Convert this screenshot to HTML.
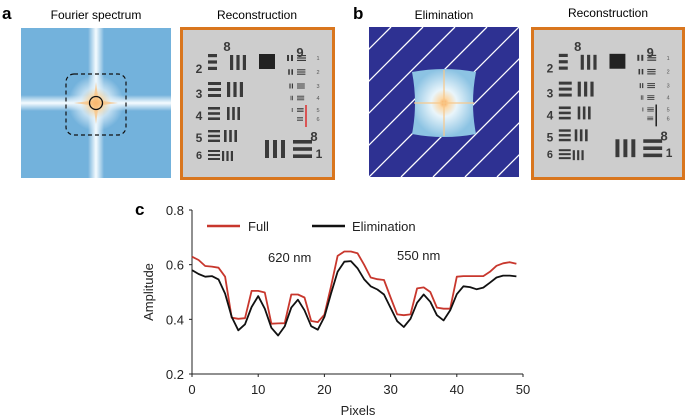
<!DOCTYPE html>
<html><head><meta charset="utf-8"><style>
body{margin:0;background:#fff;width:688px;height:419px;overflow:hidden;font-family:"Liberation Sans",Arial,sans-serif}
svg{position:absolute;left:0;top:0}
</style></head><body>
<svg width="688" height="419" viewBox="0 0 688 419" font-family="Liberation Sans, Arial, sans-serif">
<defs>
<linearGradient id="vband" x1="0" x2="1" y1="0" y2="0">
<stop offset="0" stop-color="#fff" stop-opacity="0"/><stop offset="0.5" stop-color="#f4fbff" stop-opacity="1"/><stop offset="1" stop-color="#fff" stop-opacity="0"/></linearGradient>
<linearGradient id="hband" x1="0" x2="0" y1="0" y2="1">
<stop offset="0" stop-color="#fff" stop-opacity="0"/><stop offset="0.5" stop-color="#f4fbff" stop-opacity="1"/><stop offset="1" stop-color="#fff" stop-opacity="0"/></linearGradient>
<radialGradient id="glow"><stop offset="0" stop-color="#f7a048"/><stop offset="0.2" stop-color="#fbd49a"/><stop offset="0.55" stop-color="#e6f3fb" stop-opacity="0.7"/><stop offset="1" stop-color="#e6f3fb" stop-opacity="0"/></radialGradient>
<radialGradient id="pillow"><stop offset="0" stop-color="#f8a858"/><stop offset="0.15" stop-color="#fcd9a8"/><stop offset="0.4" stop-color="#e9f5fb"/><stop offset="1" stop-color="#8cc3e3"/></radialGradient>
<clipPath id="elimclip"><rect x="369" y="27" width="150" height="150"/></clipPath>
</defs>

<text x="2" y="19" font-size="17" font-weight="bold">a</text>
<text x="96" y="19" font-size="12" text-anchor="middle">Fourier spectrum</text>
<g>
<rect x="21" y="28" width="150" height="150" fill="#73b2dc"/>
<rect x="88" y="28" width="16" height="150" fill="url(#vband)"/>
<rect x="21" y="95" width="150" height="16" fill="url(#hband)"/>
<circle cx="96" cy="103" r="28" fill="url(#glow)"/>
<path d="M96 82 L98.5 100.5 L118 103 L98.5 105.5 L96 124 L93.5 105.5 L74 103 L93.5 100.5Z" fill="#f9c07e" opacity="0.7"/>
<rect x="66" y="74" width="60" height="61" rx="8" fill="none" stroke="#111" stroke-dasharray="4,3" stroke-width="1.2"/>
<circle cx="96" cy="103" r="6.5" fill="none" stroke="#111" stroke-width="1.3"/>
</g>
<text x="257" y="19" font-size="12" text-anchor="middle">Reconstruction</text>
<g id="reconA"></g>

<text x="353" y="19" font-size="17" font-weight="bold">b</text>
<text x="444" y="19" font-size="12" text-anchor="middle">Elimination</text>
<g>
<rect x="369" y="27" width="150" height="150" fill="#2e3192"/>
<g clip-path="url(#elimclip)" stroke="#fff" stroke-width="1.3" id="hatch"></g>
<path d="M412 72 Q444 66 476 72 Q470 103 476 134 Q444 140 412 134 Q418 103 412 72Z" fill="url(#pillow)"/>
<line x1="444" y1="70" x2="444" y2="136" stroke="#f8c88a" stroke-width="1.5" opacity="0.8"/>
<line x1="414" y1="103" x2="474" y2="103" stroke="#f8c88a" stroke-width="1.5" opacity="0.8"/>
</g>
<text x="608" y="17" font-size="12" text-anchor="middle">Reconstruction</text>
<g id="reconB"></g>

<text x="135" y="215" font-size="17" font-weight="bold">c</text>
<g id="chart"></g>
</svg>
<script>
const NS='http://www.w3.org/2000/svg';
function mk(tag,attrs,parent,txt){const e=document.createElementNS(NS,tag);for(const k in attrs)e.setAttribute(k,attrs[k]);if(txt!==undefined)e.textContent=txt;parent.appendChild(e);return e;}

const hatch=document.getElementById('hatch');
for(let i=-6;i<7;i++){const x0=369+i*32;const l=mk('line',{x1:x0,y1:177,x2:x0+150,y2:27},hatch);

}

function target(g,x,y,w,h,markColor){
  mk('rect',{x:x+1.5,y:y+1.5,width:w-3,height:h-3,fill:'#cdcdcd',stroke:'#d9761e','stroke-width':3},g);
  const s=w/155;
  const T=(tx,ty,t,fs,fill)=>mk('text',{x:x+tx*s,y:y+ty*s,'font-size':fs*s,'font-weight':'bold',fill:fill||'#3a3a3a','text-anchor':'middle'},g,t);
  // horizontal bar group: x range, y range, count
  const hb=(x0,x1,y0,y1,n)=>{const step=(y1-y0)/(2*n-1);for(let i=0;i<n;i++)mk('rect',{x:x+x0*s,y:y+(y0+2*i*step)*s,width:(x1-x0)*s,height:step*s,fill:'#3a3a3a'},g);};
  const vb=(x0,x1,y0,y1,n)=>{const step=(x1-x0)/(2*n-1);for(let i=0;i<n;i++)mk('rect',{x:x+(x0+2*i*step)*s,y:y+y0*s,width:step*s,height:(y1-y0)*s,fill:'#3a3a3a'},g);};
  T(47,24,'8',13);T(120,30,'9',13);
  T(19,46,'2',12);hb(28,37,27,43,3);vb(50,66,28,43,3);
  T(19,71,'3',12);hb(28,41,55,70,3);vb(47,63,55,70,3);
  T(19,93,'4',12);hb(28,40,80,93,3);vb(47,60,80,93,3);
  T(19,115,'5',12);hb(28,40,103,115,3);vb(44,57,103,115,3);
  T(19,132,'6',11);hb(28,40,123,133,3);vb(42,53,124,134,3);
  mk('rect',{x:x+79*s,y:y+27*s,width:16*s,height:15*s,fill:'#222'},g);
  [31,45,59,71,83,92].forEach((yy,i)=>{
    const hh=6-i*0.5;
    vb(107+i*1.2,113,yy-hh/2,yy+hh/2,2);hb(117,126-i*0.6,yy-hh/2,yy+hh/2,3);
    mk('text',{x:x+138*s,y:y+(yy+2)*s,'font-size':5.5*s,fill:'#555','text-anchor':'middle'},g,String(i+1));});
  mk('line',{x1:x+126*s,y1:y+78*s,x2:x+126*s,y2:y+100*s,stroke:markColor,'stroke-width':1.4},g);
  T(134,114,'8',13);
  vb(85,105,113,131,3);hb(113,132,113,131,3);T(139,131,'1',12);
}
target(document.getElementById('reconA'),180,27,155,153,'#e02020');
target(document.getElementById('reconB'),531,27,154,153,'#111');

const pixels=[0,1,2,3,4,5,6,7,8,9,10,11,12,13,14,15,16,17,18,19,20,21,22,23,24,25,26,27,28,29,30,31,32,33,34,35,36,37,38,39,40,41,42,43,44,45,46,47,48,49];
const fullValues=[0.629,0.617,0.595,0.593,0.589,0.556,0.406,0.402,0.404,0.504,0.504,0.498,0.384,0.385,0.386,0.491,0.491,0.48,0.394,0.39,0.417,0.52,0.632,0.648,0.648,0.642,0.6,0.553,0.547,0.544,0.48,0.418,0.415,0.418,0.513,0.517,0.5,0.443,0.439,0.439,0.556,0.558,0.558,0.558,0.558,0.574,0.596,0.605,0.609,0.603];
const elimValues=[0.58,0.566,0.556,0.558,0.546,0.494,0.409,0.36,0.382,0.445,0.485,0.439,0.369,0.341,0.374,0.443,0.472,0.433,0.375,0.362,0.409,0.494,0.574,0.611,0.613,0.587,0.547,0.521,0.509,0.491,0.442,0.393,0.372,0.402,0.461,0.491,0.464,0.415,0.396,0.433,0.492,0.521,0.518,0.51,0.516,0.534,0.553,0.56,0.56,0.557];
const xTicks=[0,10,20,30,40,50];
const yTicks=[0.2,0.4,0.6,0.8];
const yTickLabels=['0.2','0.4','0.6','0.8'];

const X0=192,X1=523,Y0=374,Y1=210;
const xs=v=>X0+(v-0)/(50-0)*(X1-X0);
const ys=v=>Y0-(v-0.2)/(0.8-0.2)*(Y0-Y1);
const c=document.getElementById('chart');

const ya=mk('line',{x1:X0,y1:Y1,x2:X0,y2:Y0,stroke:'#222','stroke-width':1},c);


const xa=mk('line',{x1:X0,y1:Y0,x2:X1,y2:Y0,stroke:'#222','stroke-width':1},c);



yTicks.forEach((v,i)=>{
  const t=mk('line',{x1:X0-3,y1:ys(v),x2:X0,y2:ys(v),stroke:'#222'},c);
  
  
  const l=mk('text',{x:X0-8,y:ys(v)+5,'font-size':13,'text-anchor':'end',fill:'#222'},c,yTickLabels[i]);
  
  
});
xTicks.forEach(v=>{
  const t=mk('line',{x1:xs(v),y1:Y0,x2:xs(v),y2:Y0+3,stroke:'#222'},c);
  
  
  const l=mk('text',{x:xs(v),y:Y0+20,'font-size':13,'text-anchor':'middle',fill:'#222'},c,String(v));
  
  
});
const xt=mk('text',{x:358,y:415,'font-size':13,'text-anchor':'middle',fill:'#222'},c,'Pixels');


const yt=mk('text',{x:0,y:0,'font-size':13,'text-anchor':'middle',fill:'#222',transform:'translate(153,292) rotate(-90)'},c,'Amplitude');



function series(vals,color,name){
  const d=vals.map((v,i)=>(i?'L':'M')+xs(pixels[i]).toFixed(1)+' '+ys(v).toFixed(1)).join(' ');
  const p=mk('path',{d:d,fill:'none',stroke:color,'stroke-width':1.8,'stroke-linejoin':'round'},c);
  
  
}
series(fullValues,'#c8372d','full-series-line');
series(elimValues,'#111','elimination-series-line');

const lf=mk('line',{x1:207,y1:226,x2:240,y2:226,stroke:'#c8372d','stroke-width':2.5},c);


const lft=mk('text',{x:248,y:231,'font-size':13,fill:'#222'},c,'Full');


const le=mk('line',{x1:312,y1:226,x2:345,y2:226,stroke:'#111','stroke-width':2.5},c);


const let_=mk('text',{x:352,y:231,'font-size':13,fill:'#222'},c,'Elimination');


const a1=mk('text',{x:268,y:262,'font-size':13,fill:'#222'},c,'620 nm');


const a2=mk('text',{x:397,y:260,'font-size':13,fill:'#222'},c,'550 nm');


</script>
</body></html>
